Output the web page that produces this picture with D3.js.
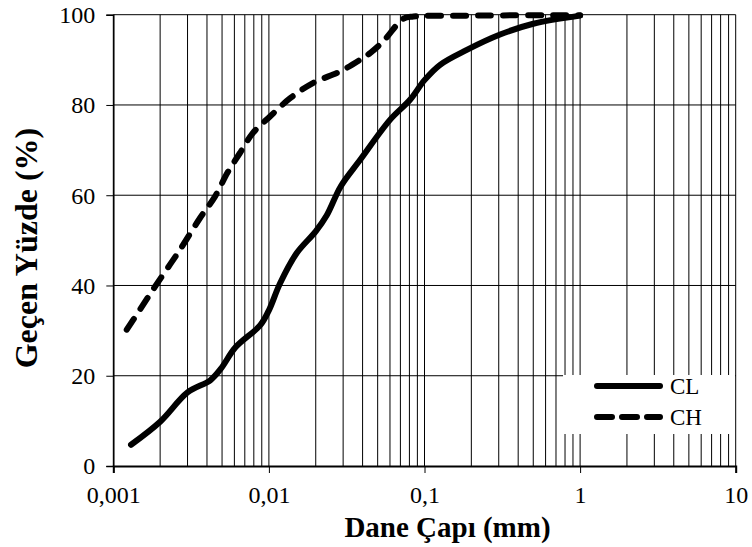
<!DOCTYPE html>
<html>
<head>
<meta charset="utf-8">
<script src="https://cdn.jsdelivr.net/npm/d3@7"></script>
<style>
  html, body { margin: 0; padding: 0; background: #fff; }
  svg { display: block; }
  text { font-family: "Liberation Serif", "Times New Roman", serif; fill: #000; }
</style>
</head>
<body>
<svg id="chart" width="752" height="547"></svg>
<script>
// ---- Data ----
const seriesNames = ["CL", "CH"];
const clDiameter = [0.0013, 0.0020, 0.0030, 0.0042, 0.0049, 0.0061, 0.0088, 0.0100, 0.0118, 0.0151, 0.0200, 0.0235, 0.0290, 0.0385, 0.060, 0.081, 0.100, 0.126, 0.187, 0.306, 0.50, 1.0];
const clPassing  = [4.7, 9.8, 16.3, 19.0, 21.5, 26.3, 31.2, 34.5, 40.5, 47.2, 52.0, 55.5, 62.0, 67.8, 76.7, 81.2, 85.5, 88.9, 92.2, 95.6, 98.0, 99.8];
const chDiameter = [0.00122, 0.00148, 0.0019, 0.00268, 0.0036, 0.0045, 0.0054, 0.0065, 0.0079, 0.0102, 0.0137, 0.0193, 0.0286, 0.0385, 0.0447, 0.0543, 0.0731, 0.085, 0.2, 1.0];
const chPassing  = [30.2, 34.6, 40.3, 47.9, 54.9, 59.7, 64.9, 69.3, 73.8, 77.5, 81.5, 84.9, 87.4, 90.0, 91.5, 94.1, 99.1, 99.6, 99.8, 99.9];
const xTickValues = [0.001, 0.01, 0.1, 1, 10];
const xTickLabels = ["0,001", "0,01", "0,1", "1", "10"];
const yTickValues = [0, 20, 40, 60, 80, 100];
const xTitle = "Dane Çapı (mm)";
const yTitle = "Geçen Yüzde (%)";

// ---- Layout ----
const svg = d3.select("#chart");
const L = 113.3, R = 735.7, T = 14.7, B = 466;
const x = d3.scaleLog().domain([0.001, 10]).range([L, R]);
const y = d3.scaleLinear().domain([0, 100]).range([B, T]);

// minor/major vertical gridlines
const gridX = [];
for (let e = -3; e <= 0; e++) {
  for (let m = 1; m <= 9; m++) gridX.push(m * Math.pow(10, e));
}
gridX.push(10);

const grid = svg.append("g");
grid.selectAll("line.vx").data(gridX).join("line")
  .attr("x1", d => x(d)).attr("x2", d => x(d))
  .attr("y1", T).attr("y2", B)
  .attr("stroke", "#000").attr("stroke-width", 1);
grid.selectAll("line.hy").data(yTickValues.filter(v => v > 0)).join("line")
  .attr("x1", L).attr("x2", R)
  .attr("y1", d => y(d)).attr("y2", d => y(d))
  .attr("stroke", "#000").attr("stroke-width", 1);

// Axes
const yAxis = d3.axisLeft(y).tickValues(yTickValues).tickSize(7).tickPadding(11).tickFormat(d3.format("d"));
const gy = svg.append("g").attr("transform", `translate(${L},0)`).call(yAxis);
gy.select(".domain").attr("stroke", "#000").attr("stroke-width", 1.5);
gy.selectAll(".tick line").attr("stroke", "#000");
gy.selectAll(".tick text").attr("font-size", 24).attr("font-family", "Liberation Serif, Times New Roman, serif").attr("dy", "0.33em");

const xAxis = d3.axisBottom(x).tickValues(xTickValues).tickSize(7).tickPadding(13)
  .tickFormat((d, i) => xTickLabels[i]);
const gx = svg.append("g").attr("transform", `translate(0,${B})`).call(xAxis);
gx.select(".domain").attr("stroke", "#000").attr("stroke-width", 2);
gx.selectAll(".tick line").attr("stroke", "#000");
gx.selectAll(".tick text").attr("font-size", 24).attr("font-family", "Liberation Serif, Times New Roman, serif");

// Lines
const line = d3.line().x(d => x(d[0])).y(d => y(d[1])).curve(d3.curveCatmullRom.alpha(0.5));
const clData = clDiameter.map((d, i) => [d, clPassing[i]]);
const chData = chDiameter.map((d, i) => [d, chPassing[i]]);

svg.append("path").datum(clData).attr("d", line)
  .attr("fill", "none").attr("stroke", "#000").attr("stroke-width", 6)
  .attr("stroke-linecap", "round").attr("stroke-linejoin", "round");
svg.append("path").datum(chData).attr("d", line)
  .attr("fill", "none").attr("stroke", "#000").attr("stroke-width", 6)
  .attr("stroke-dasharray", "13,12")
  .attr("stroke-linecap", "round").attr("stroke-linejoin", "round");

// Legend
const lg = svg.append("g");
lg.append("rect").attr("x", 563).attr("y", 375).attr("width", 172).attr("height", 59).attr("fill", "#fff");
const legendItems = [
  { name: seriesNames[0], dash: null, yy: 386 },
  { name: seriesNames[1], dash: "15,10", yy: 417 }
];
legendItems.forEach(it => {
  lg.append("line").attr("x1", 597).attr("x2", 660).attr("y1", it.yy).attr("y2", it.yy)
    .attr("stroke", "#000").attr("stroke-width", 6).attr("stroke-linecap", "round")
    .attr("stroke-dasharray", it.dash);
  lg.append("text").attr("x", 670).attr("y", it.yy + 8).attr("font-size", 23).text(it.name);
});

// Titles
svg.append("text").attr("x", 447.5).attr("y", 537).attr("text-anchor", "middle")
  .attr("font-size", 29).attr("font-weight", "bold").text(xTitle);
svg.append("text").attr("transform", "translate(37,248) rotate(-90)").attr("text-anchor", "middle")
  .attr("font-size", 32).attr("font-weight", "bold").text(yTitle);
</script>
</body>
</html>
